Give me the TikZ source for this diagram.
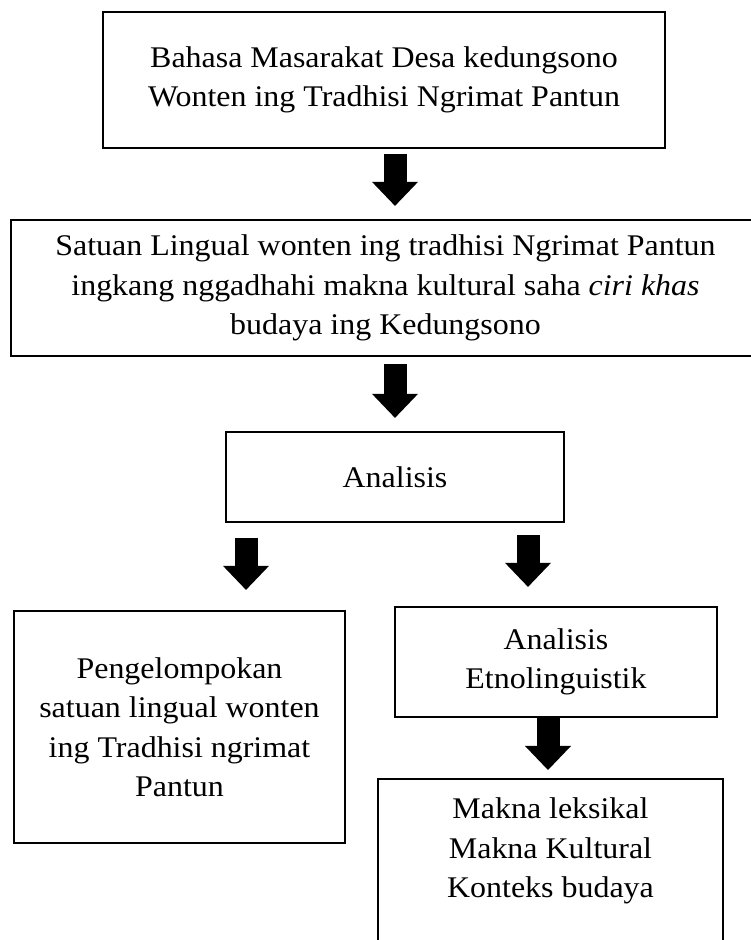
\documentclass[tikz,border=0pt]{standalone}
\usepackage{fontspec}
\setmainfont[FakeStretch=1.065]{Liberation Serif}
\usetikzlibrary{calc}
\newcommand{\blockarr}[2]{%
  \fill ($(#1)+(-11.5pt,0)$) rectangle ($(#2)+(11.5pt,23.5pt)$);
  \fill (#2) -- ++(-23pt,24pt) -- ++(46pt,0) -- cycle;}
\begin{document}
\begin{tikzpicture}[x=1pt,y=1pt,
  box/.style={draw=black, line width=2.2pt, fill=none, rectangle, inner sep=0pt, align=center,
    font=\fontsize{30pt}{39.5pt}\selectfont},
  txt/.style={inner sep=0pt, align=center, font=\fontsize{30pt}{39.5pt}\selectfont}]
\useasboundingbox (0,0) rectangle (750,940);
\fill[white] (0,0) rectangle (750,940);
% boxes (y = 940 - pixel row)
\node[box, minimum width=562pt, minimum height=136pt] (b1) at (384,860)
  {Bahasa Masarakat Desa kedungsono\\Wonten ing Tradhisi Ngrimat Pantun};
\node[box, minimum width=749pt, minimum height=136pt] (b2) at (385.5,652)
  {Satuan Lingual wonten ing tradhisi Ngrimat Pantun\\ingkang nggadhahi makna kultural saha \textit{ciri khas}\\budaya ing Kedungsono};
\node[box, minimum width=338pt, minimum height=90pt] (b3) at (395,463) {Analisis};
\node[box, minimum width=331pt, minimum height=232pt] (b4) at (179.5,213)
  {Pengelompokan\\satuan lingual wonten\\ing Tradhisi ngrimat\\Pantun};
\node[box, minimum width=322pt, minimum height=110pt] (b5) at (556,278)
  {Analisis\\Etnolinguistik};
\node[box, anchor=north, minimum width=345pt, minimum height=260pt] (b6) at (550.5,162) {};
\node[txt] (t6) at (550.5,89) {Makna leksikal\\Makna Kultural\\Konteks budaya};
% arrow end points
\coordinate (a1s) at ([xshift=11pt,yshift=-5pt]b1.south);
\coordinate (a1e) at ([xshift=9.5pt,yshift=13pt]b2.north);
\coordinate (a2s) at ([xshift=9.5pt,yshift=-7pt]b2.south);
\coordinate (a2e) at ([yshift=13pt]b3.north);
\coordinate (a3s) at ([xshift=-149pt,yshift=-15pt]b3.south);
\coordinate (a3e) at ([xshift=66.5pt,yshift=20pt]b4.north);
\coordinate (a4s) at ([xshift=133pt,yshift=-12pt]b3.south);
\coordinate (a4e) at ([xshift=-28pt,yshift=19pt]b5.north);
\coordinate (a5s) at ([xshift=-8pt]b5.south);
\coordinate (a5e) at ([xshift=-2.5pt,yshift=8pt]b6.north);
\blockarr{a1s}{a1e}
\blockarr{a2s}{a2e}
\blockarr{a3s}{a3e}
\blockarr{a4s}{a4e}
\blockarr{a5s}{a5e}
\end{tikzpicture}
\end{document}
